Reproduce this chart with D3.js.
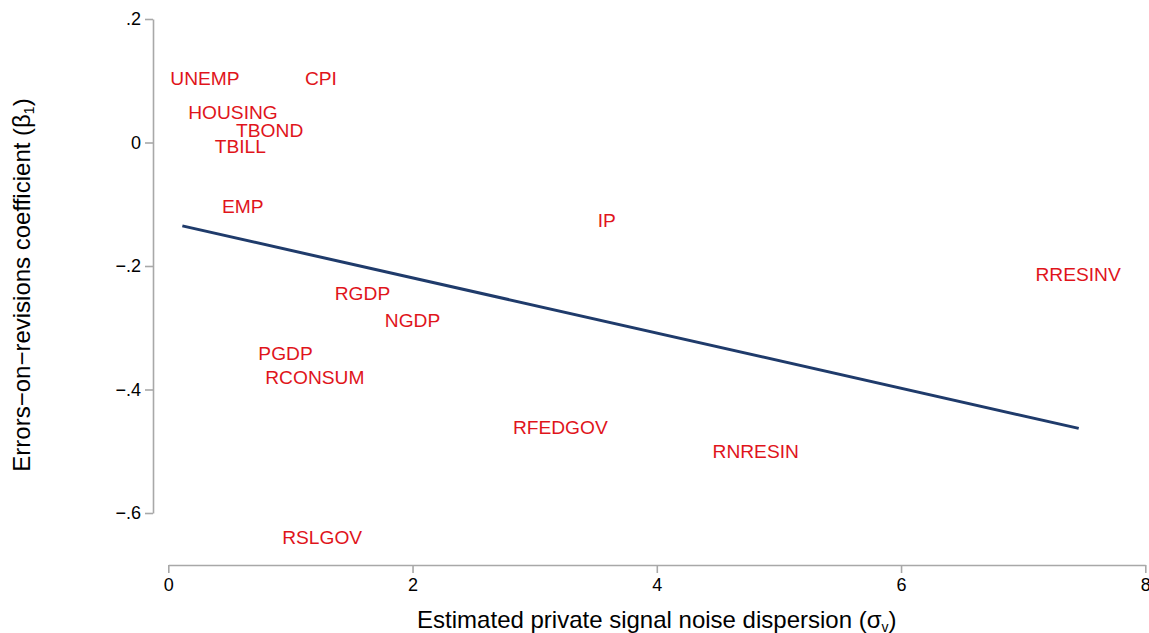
<!DOCTYPE html>
<html>
<head>
<meta charset="utf-8">
<script src="https://cdn.jsdelivr.net/npm/d3@7"></script>
<style>
  html, body { margin: 0; padding: 0; background: #fff; }
  svg { display: block; font-family: "Liberation Sans", Arial, Helvetica, sans-serif; }
</style>
</head>
<body>
<svg id="chart" width="1149" height="633"></svg>
<script>
// Series labels, placed at (noise dispersion, coefficient)
const series = ["UNEMP", "CPI", "HOUSING", "TBOND", "TBILL", "EMP", "IP", "RRESINV",
                "RGDP", "NGDP", "PGDP", "RCONSUM", "RFEDGOV", "RNRESIN", "RSLGOV"];
const sigmaV = [0.30, 1.25, 0.53, 0.83, 0.59, 0.61, 3.59, 7.45,
                1.59, 2.00, 0.96, 1.20, 3.21, 4.81, 1.26];
const beta1  = [0.103, 0.103, 0.048, 0.020, -0.006, -0.103, -0.126, -0.213,
                -0.244, -0.289, -0.341, -0.380, -0.462, -0.500, -0.639];

// Fitted line endpoints
const fitX = [0.115, 7.455];
const fitY = [-0.135, -0.463];

// Axis ticks
const xTicks = [0, 2, 4, 6, 8];
const yTicks = [-0.6, -0.4, -0.2, 0, 0.2];
const yTickLabels = ["\u2212.6", "\u2212.4", "\u2212.2", "0", ".2"];

const svg = d3.select("#chart");

const x = d3.scaleLinear().domain([0, 8]).range([168.3, 1145.3]);
const y = d3.scaleLinear().domain([-0.6, 0.2]).range([513, 19]);

const axisColor = "#a8a8a8";

// Y axis
const gy = svg.append("g")
  .attr("transform", "translate(153,0)")
  .call(d3.axisLeft(y)
    .tickValues(yTicks)
    .tickFormat((d, i) => yTickLabels[i])
    .tickSizeInner(8)
    .tickSizeOuter(0)
    .tickPadding(4));
gy.select(".domain").attr("stroke", axisColor).attr("stroke-width", 1.6);
gy.selectAll(".tick line").attr("stroke", axisColor).attr("stroke-width", 1.6);
gy.selectAll(".tick text").attr("fill", "#000").attr("font-size", 18)
  .attr("font-family", "Liberation Sans, Arial, sans-serif");

// X axis
const gx = svg.append("g")
  .attr("transform", "translate(0,565)")
  .call(d3.axisBottom(x)
    .tickValues(xTicks)
    .tickFormat(d3.format("d"))
    .tickSizeInner(8)
    .tickSizeOuter(0)
    .tickPadding(5));
gx.select(".domain").attr("stroke", axisColor).attr("stroke-width", 1.6);
gx.selectAll(".tick line").attr("stroke", axisColor).attr("stroke-width", 1.6);
gx.selectAll(".tick text").attr("fill", "#000").attr("font-size", 18)
  .attr("font-family", "Liberation Sans, Arial, sans-serif");

// Fitted regression line
const fit = fitX.map((v, i) => [v, fitY[i]]);
svg.append("path")
  .datum(fit)
  .attr("fill", "none")
  .attr("stroke", "#1f3b6b")
  .attr("stroke-width", 3)
  .attr("d", d3.line().x(d => x(d[0])).y(d => y(d[1])));

// Series name labels
const pts = series.map((s, i) => ({ name: s, sx: sigmaV[i], b: beta1[i] }));
svg.append("g")
  .selectAll("text")
  .data(pts)
  .join("text")
  .attr("x", d => x(d.sx))
  .attr("y", d => y(d.b))
  .attr("text-anchor", "middle")
  .attr("dominant-baseline", "central")
  .attr("font-size", 19.2)
  .attr("fill", "#e0141b")
  .text(d => d.name);

// X axis title
const xt = svg.append("text")
  .attr("x", 656.8)
  .attr("y", 628)
  .attr("text-anchor", "middle")
  .attr("font-size", 24)
  .attr("fill", "#000");
xt.append("tspan").text("Estimated private signal noise dispersion (\u03c3");
xt.append("tspan").attr("font-size", 14).attr("dy", 4).text("v");
xt.append("tspan").attr("dy", -4).text(")");

// Y axis title
const yt = svg.append("text")
  .attr("transform", "translate(30,285) rotate(-90)")
  .attr("text-anchor", "middle")
  .attr("font-size", 24)
  .attr("fill", "#000");
yt.append("tspan").text("Errors\u2212on\u2212revisions coefficient (\u03b2");
yt.append("tspan").attr("font-size", 14).attr("dy", 4).text("1");
yt.append("tspan").attr("dy", -4).text(")");
</script>
</body>
</html>
